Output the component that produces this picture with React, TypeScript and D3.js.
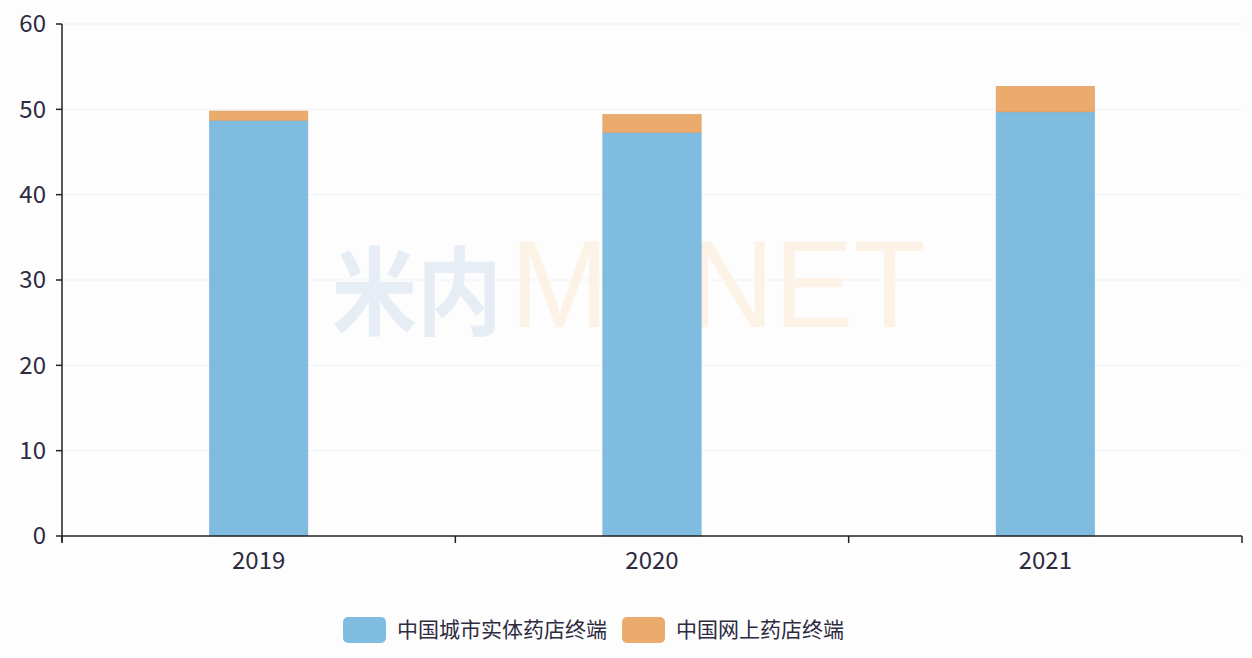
import React from "react"
import * as d3 from "d3"

const years = ["2019", "2020", "2021"]
const storeValues = [48.7, 47.3, 49.7]
const onlineValues = [1.1, 2.1, 3.0]
const yTicks = [0, 10, 20, 30, 40, 50, 60]
const seriesNames = ["中国城市实体药店终端", "中国网上药店终端"]
const seriesColors = ["#80bbe0", "#ebab6c"]

const W = 1252
const H = 658
const margin = { top: 24, right: 10, bottom: 122, left: 62 }
const FONT = "'Noto Sans CJK SC', 'Noto Sans', sans-serif"

export default function App() {
  const x = d3.scaleBand().domain(years).range([margin.left, 1242])
  const y = d3.scaleLinear().domain([0, 60]).range([H - margin.bottom, margin.top])
  const barW = x.bandwidth() * 0.25

  const stacked = d3.stack<number>().keys(["0", "1"]).value((i, k) =>
    k === "0" ? storeValues[i] : onlineValues[i]
  )(years.map((_, i) => i))

  const bandEdges = years.map(d => x(d)!).concat([x(years[years.length - 1])! + x.bandwidth()])

  return (
    <div style={{ position: "absolute", left: 0, top: 0 }}>
      <svg width={W} height={H} style={{ display: "block", background: "#fdfdfe" }}>
        {/* gridlines */}
        {yTicks.slice(1).map(t => (
          <line key={t} x1={margin.left} x2={1242} y1={y(t)} y2={y(t)} stroke="#eef1f7" strokeWidth={1} />
        ))}

        {/* watermark */}
        <text x={332} y={327} fill="#e6edf5" fontFamily={FONT} fontWeight="bold" fontSize={96} textLength={170} lengthAdjust="spacingAndGlyphs">米内</text>
        <text x={510} y={327} fill="#fcf2e5" fontFamily="'Liberation Sans', sans-serif" fontSize={124} textLength={416} lengthAdjust="spacingAndGlyphs">MENET</text>

        {/* bars */}
        {stacked.map((layer, si) => (
          <g key={si} fill={seriesColors[si]}>
            {layer.map((seg, i) => (
              <rect
                key={i}
                x={x(years[i])! + (x.bandwidth() - barW) / 2}
                y={y(seg[1])}
                width={barW}
                height={y(seg[0]) - y(seg[1])}
                stroke={si === 0 ? "#74afd4" : "#d99c64"}
                strokeWidth={0.6}
              />
            ))}
          </g>
        ))}

        {/* y axis */}
        <line x1={margin.left} x2={margin.left} y1={y(60)} y2={y(0) + 6} stroke="#222" strokeWidth={1.5} />
        {yTicks.map(t => (
          <g key={t}>
            <line x1={margin.left - 6} x2={margin.left} y1={y(t)} y2={y(t)} stroke="#222" strokeWidth={1.5} />
            <text x={margin.left - 16} y={y(t)} dy="0.35em" textAnchor="end" fontFamily={FONT} fontSize={24} fill="#2e2b3f">
              {t}
            </text>
          </g>
        ))}

        {/* x axis */}
        <line x1={margin.left} x2={1242} y1={y(0)} y2={y(0)} stroke="#222" strokeWidth={1.5} />
        {bandEdges.map((e, i) => (
          <line key={i} x1={e} x2={e} y1={y(0)} y2={y(0) + 7} stroke="#222" strokeWidth={1.5} />
        ))}
        {years.map(d => (
          <text key={d} x={x(d)! + x.bandwidth() / 2} y={y(0) + 33} textAnchor="middle" fontFamily={FONT} fontSize={24} fill="#2e2b3f">
            {d}
          </text>
        ))}

        {/* legend */}
        {[343, 622].map((lx, i) => (
          <g key={i}>
            <rect x={lx} y={617} width={43} height={26} rx={5} fill={seriesColors[i]} />
            <text x={lx + 54} y={630} dy="0.35em" fontFamily={FONT} fontSize={21} fill="#2e2b3f">
              {seriesNames[i]}
            </text>
          </g>
        ))}
      </svg>
    </div>
  )
}
